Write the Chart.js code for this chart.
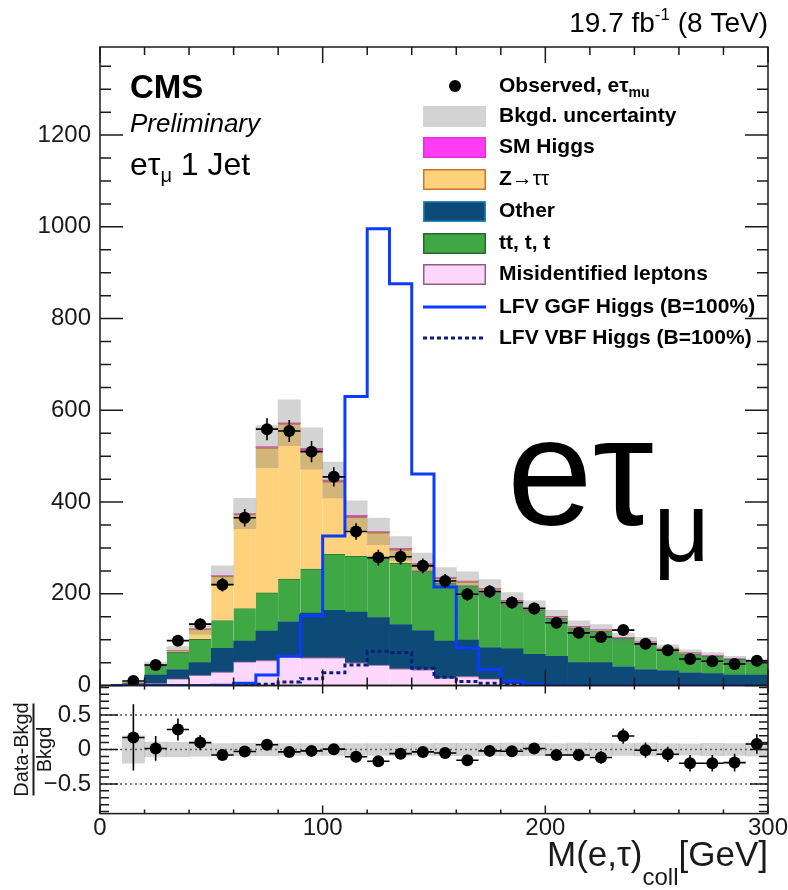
<!DOCTYPE html>
<html>
<head>
<meta charset="utf-8">
<title>LFV Higgs, e tau_mu 1 jet</title>
<script src="https://cdn.jsdelivr.net/npm/chart.js@4.4.1/dist/chart.umd.min.js"></script>
<style>
  html, body { margin: 0; padding: 0; background: #fff; }
  #wrap { position: relative; width: 788px; height: 890px; overflow: hidden; }
  canvas { position: absolute; left: 0; }
  #main { top: 0; }
  #ratio { top: 671px; }
</style>
</head>
<body>
<div id="wrap">
  <canvas id="main" width="788" height="709"></canvas>
  <canvas id="ratio" width="788" height="225"></canvas>
</div>
<script>
// M(e,tau)_coll in 10 GeV bins, 0 - 300 GeV
const binCenters = [5, 15, 25, 35, 45, 55, 65, 75, 85, 95, 105, 115, 125, 135, 145,
                    155, 165, 175, 185, 195, 205, 215, 225, 235, 245, 255, 265, 275, 285, 295];
const binHalfWidth = 5;

// backgrounds (events / bin), stacked from the bottom up
const misidLeptons = [0, 1, 5, 15, 23, 30, 52, 55, 63, 61, 61, 50, 45, 37, 35, 17, 20, 15, 4, 3, 2, 2, 1, 1, 1, 1, 1, 1, 1, 1];
const otherBkg     = [0, 2, 18, 20, 27, 51, 45, 64, 76, 97, 103, 110, 103, 96, 85, 80, 80, 68, 76, 65, 62, 48, 49, 40, 34, 32, 27, 25, 22, 22];
const ttbarTop     = [0, 2, 21, 38, 51, 61, 71, 83, 93, 96, 122, 122, 130, 134, 130, 127, 118, 123, 102, 97, 83, 76, 69, 62, 58, 46, 41, 38, 34, 27];
const zTauTau      = [0, 1, 2, 4, 23, 97, 206, 317, 339, 260, 159, 86, 56, 30, 15, 11, 9, 5, 3, 4, 3, 2, 2, 1, 2, 2, 2, 1, 1, 1];
const smHiggs      = [0, 0, 0, 0, 0, 1, 1, 2, 2, 3, 3, 3, 2, 2, 1, 1, 1, 1, 1, 1, 1, 1, 1, 1, 1, 1, 1, 1, 1, 1];
const bkgUncert    = [0, 1.2, 5, 8, 12, 21, 33, 46, 50, 45, 39, 32, 29, 26, 23, 21, 20, 19, 17, 15, 13, 12, 11, 9, 9, 7, 6, 6, 5, 5];

// LFV signals, B=100% (not stacked)
const ggfSignal = [0, 0, 0, 0, 0, 1, 5, 23, 64, 152, 326, 630, 996, 876, 461, 215, 82, 35, 10, 3, 1, 0, 0, 0, 0, 0, 0, 0, 0, 0];
const vbfSignal = [0, 0, 0, 0, 0, 0, 1, 3, 8, 15, 28, 45, 75, 72, 38, 18, 9, 5, 2, 1, 0, 0, 0, 0, 0, 0, 0, 0, 0, 0];

// observed data
const observed    = [null, 10, 45, 98, 134, 220, 366, 559, 555, 510, 455, 336, 279, 281, 261, 228, 199, 205, 181, 168, 137, 115, 106, 121, 91, 77, 58, 53, 47, 54];
const observedErr = [0, 3, 7, 10, 12, 15, 19, 24, 24, 23, 21, 18, 17, 17, 16, 15, 14, 14, 13, 13, 12, 11, 10, 11, 10, 9, 8, 7, 7, 7];

// lower pad: (Data-Bkgd)/Bkgd
const ratioVals = [null, 0.175, 0.015, 0.29, 0.10, -0.08, -0.03, 0.07, -0.035, -0.02, 0.005, -0.105, -0.17, -0.06, -0.035,
                   -0.05, -0.155, -0.02, -0.025, 0.015, -0.08, -0.08, -0.115, 0.195, -0.01, -0.07, -0.2, -0.2, -0.19, 0.08];
const ratioErr  = [0, 0.48, 0.18, 0.16, 0.11, 0.07, 0.06, 0.05, 0.05, 0.05, 0.05, 0.05, 0.05, 0.06, 0.06,
                   0.07, 0.07, 0.07, 0.07, 0.08, 0.08, 0.09, 0.09, 0.11, 0.11, 0.11, 0.12, 0.12, 0.13, 0.14];

// tick labels
const yTicksMain = [0, 200, 400, 600, 800, 1000, 1200];
const yTicksRatio = [-0.5, 0, 0.5];
const xTicks = [0, 100, 200, 300];

const FONT = "'Liberation Sans', Arial, Helvetica, sans-serif";
Chart.defaults.font.family = FONT;
Chart.defaults.color = '#1a1a1a';

const totals = binCenters.map((c, i) => misidLeptons[i] + otherBkg[i] + ttbarTop[i] + zTauTau[i] + smHiggs[i]);
const pts = arr => binCenters.map((c, i) => ({x: c, y: arr[i]}));
const filled = binCenters.map((c, i) => i).filter(i => totals[i] > 0);

function stackSet(label, arr, fill, edge, edgeW) {
    return {
        type: 'bar', label: label, data: pts(arr), stack: 'bkg', order: 4,
        backgroundColor: fill, borderColor: edge,
        borderWidth: {top: edgeW, right: 0, bottom: 0, left: 0}, borderSkipped: false,
        barPercentage: 1, categoryPercentage: 1
    };
}

// text made of pieces: [text, font, dy]
function runWidth(ctx, parts) {
    let w = 0;
    parts.forEach(p => { ctx.font = p[1]; w += ctx.measureText(p[0]).width; });
    return w;
}
function drawRun(ctx, x, y, parts) {
    let cx = x;
    parts.forEach(p => {
        ctx.font = p[1];
        ctx.fillText(p[0], cx, y + (p[2] || 0));
        cx += ctx.measureText(p[0]).width;
    });
    return cx;
}

// ROOT style frame with inward ticks on all four sides
function drawFrame(chart, t) {
    const {ctx, chartArea: a} = chart;
    const xs = chart.scales.x, ys = chart.scales.y;
    ctx.save();
    ctx.strokeStyle = '#1a1a1a';
    ctx.lineWidth = 1.5;
    ctx.beginPath();
    const nx = Math.round((xs.max - xs.min) / t.xMinor);
    for (let k = 0; k <= nx; k++) {
        const len = k % t.xEvery === 0 ? t.xMajLen : t.xMinLen;
        const px = xs.getPixelForValue(xs.min + k * t.xMinor);
        ctx.moveTo(px, a.bottom); ctx.lineTo(px, a.bottom - len);
        ctx.moveTo(px, a.top); ctx.lineTo(px, a.top + len);
    }
    const k0 = Math.ceil(ys.min / t.yMinor - 1e-6), k1 = Math.floor(ys.max / t.yMinor + 1e-6);
    for (let k = k0; k <= k1; k++) {
        const len = k % t.yEvery === 0 ? t.yMajLen : t.yMinLen;
        const py = ys.getPixelForValue(k * t.yMinor);
        ctx.moveTo(a.left, py); ctx.lineTo(a.left + len, py);
        ctx.moveTo(a.right, py); ctx.lineTo(a.right - len, py);
    }
    ctx.stroke();
    ctx.strokeRect(a.left, a.top, a.right - a.left, a.bottom - a.top);
    ctx.restore();
}

function drawErrors(chart, vals, errs) {
    const {ctx, chartArea: a} = chart;
    const xs = chart.scales.x, ys = chart.scales.y;
    ctx.save();
    ctx.beginPath();
    ctx.rect(a.left, a.top, a.right - a.left, a.bottom - a.top);
    ctx.clip();
    ctx.strokeStyle = '#000';
    ctx.lineWidth = 1.6;
    ctx.beginPath();
    binCenters.forEach((c, i) => {
        if (vals[i] === null) return;
        const y = ys.getPixelForValue(vals[i]);
        const x = xs.getPixelForValue(c);
        ctx.moveTo(xs.getPixelForValue(c - binHalfWidth), y);
        ctx.lineTo(xs.getPixelForValue(c + binHalfWidth), y);
        ctx.moveTo(x, ys.getPixelForValue(vals[i] - errs[i]));
        ctx.lineTo(x, ys.getPixelForValue(vals[i] + errs[i]));
    });
    ctx.stroke();
    ctx.restore();
}

const mainDecor = {
    id: 'mainDecor',
    afterDatasetsDraw(chart) {
        drawErrors(chart, observed, observedErr);
    },
    afterDraw(chart) {
        const ctx = chart.ctx;
        drawFrame(chart, {xMinor: 20, xEvery: 5, xMajLen: 16, xMinLen: 8,
                          yMinor: 50, yEvery: 4, yMajLen: 23, yMinLen: 11});
        ctx.save();
        ctx.fillStyle = '#000';
        ctx.textAlign = 'left';
        ctx.textBaseline = 'alphabetic';

        // luminosity
        const lumi = [['19.7 fb', `28px ${FONT}`], ['-1', `17px ${FONT}`, -12], [' (8 TeV)', `28px ${FONT}`]];
        drawRun(ctx, 768 - runWidth(ctx, lumi), 32, lumi);

        // CMS labels
        ctx.font = `bold 33px ${FONT}`;
        ctx.fillText('CMS', 130, 98);
        ctx.font = `italic 26px ${FONT}`;
        ctx.fillText('Preliminary', 130, 132);
        drawRun(ctx, 130, 175, [['eτ', `32px ${FONT}`], ['μ', `20px ${FONT}`, 7], [' 1 Jet', `32px ${FONT}`]]);

        // big channel label
        drawRun(ctx, 507, 525, [['eτ', `154px ${FONT}`], ['μ', `98px ${FONT}`, 36]]);

        // legend
        const B = `bold 21px ${FONT}`;
        const tx = 499, bx = 423, bw = 63, bh = 21;
        const box = (base, fill, edge) => {
            ctx.fillStyle = fill;
            ctx.fillRect(bx, base - 16, bw, bh);
            if (edge) {
                ctx.strokeStyle = edge;
                ctx.lineWidth = 1.5;
                ctx.strokeRect(bx + 0.75, base - 16 + 0.75, bw - 1.5, bh - 1.5);
            }
            ctx.fillStyle = '#000';
        };
        ctx.beginPath();
        ctx.arc(455, 86, 6, 0, Math.PI * 2);
        ctx.fill();
        drawRun(ctx, tx, 92, [['Observed, eτ', B], ['mu', `bold 14px ${FONT}`, 5]]);
        box(122, '#d3d3d3', null);
        drawRun(ctx, tx, 122, [['Bkgd. uncertainty', B]]);
        box(153, '#ff3cf3', '#e62ee0');
        drawRun(ctx, tx, 153, [['SM Higgs', B]]);
        box(185, '#fed27c', '#c9752e');
        drawRun(ctx, tx, 185, [['Z', B], ['→ττ', `21px ${FONT}`]]);
        box(217, '#0d4a78', '#2a86c0');
        drawRun(ctx, tx, 217, [['Other', B]]);
        box(249, '#3fa845', '#236b2b');
        drawRun(ctx, tx, 249, [['tt, t, t', B]]);
        box(280, '#fdd8fb', '#8e5b8e');
        drawRun(ctx, tx, 280, [['Misidentified leptons', B]]);
        ctx.strokeStyle = '#0b3bff';
        ctx.lineWidth = 3;
        ctx.beginPath(); ctx.moveTo(bx, 307); ctx.lineTo(bx + bw, 307); ctx.stroke();
        drawRun(ctx, tx, 313, [['LFV GGF Higgs (B=100%)', B]]);
        ctx.strokeStyle = '#0c1d7d';
        ctx.setLineDash([4, 3]);
        ctx.beginPath(); ctx.moveTo(bx, 338); ctx.lineTo(bx + bw, 338); ctx.stroke();
        ctx.setLineDash([]);
        drawRun(ctx, tx, 344, [['LFV VBF Higgs (B=100%)', B]]);
        ctx.restore();
    }
};

const ratioDecor = {
    id: 'ratioDecor',
    beforeDatasetsDraw(chart) {
        const {ctx, chartArea: a} = chart;
        ctx.save();
        ctx.strokeStyle = '#555';
        ctx.lineWidth = 1.5;
        ctx.setLineDash([2, 3]);
        ctx.beginPath();
        yTicksRatio.forEach(v => {
            const py = chart.scales.y.getPixelForValue(v);
            ctx.moveTo(a.left, py); ctx.lineTo(a.right, py);
        });
        ctx.stroke();
        ctx.restore();
    },
    afterDatasetsDraw(chart) {
        drawErrors(chart, ratioVals, ratioErr);
    },
    afterDraw(chart) {
        const {ctx, chartArea: a} = chart;
        drawFrame(chart, {xMinor: 20, xEvery: 5, xMajLen: 8, xMinLen: 4,
                          yMinor: 0.1, yEvery: 5, yMajLen: 18, yMinLen: 9});
        ctx.save();
        ctx.fillStyle = '#1a1a1a';
        // y title as a fraction
        const mid = (a.top + a.bottom) / 2;
        ctx.font = `20px ${FONT}`;
        ctx.textAlign = 'center';
        ctx.textBaseline = 'alphabetic';
        ctx.save(); ctx.translate(28, mid); ctx.rotate(-Math.PI / 2); ctx.fillText('Data-Bkgd', 0, 0); ctx.restore();
        ctx.save(); ctx.translate(51, mid); ctx.rotate(-Math.PI / 2); ctx.fillText('Bkgd', 0, 0); ctx.restore();
        ctx.strokeStyle = '#1a1a1a';
        ctx.lineWidth = 2;
        ctx.beginPath(); ctx.moveTo(33.5, mid - 46); ctx.lineTo(33.5, mid + 46); ctx.stroke();
        // x title
        ctx.textAlign = 'left';
        const xt = [['M(e,τ)', `35px ${FONT}`], ['coll', `24px ${FONT}`, 19], ['[GeV]', `35px ${FONT}`]];
        drawRun(ctx, 768 - runWidth(ctx, xt), a.bottom + 52, xt);
        ctx.restore();
    }
};

const mainChart = new Chart(document.getElementById('main'), {
    type: 'bar',
    data: {
        datasets: [
            {
                type: 'scatter', label: 'Observed',
                data: pts(observed).filter(p => p.y !== null),
                pointRadius: 6, pointBackgroundColor: '#000', pointBorderWidth: 0,
                stack: 'obs', order: 0
            },
            {
                type: 'line', label: 'LFV GGF Higgs (B=100%)', data: pts(ggfSignal),
                borderColor: '#0b3bff', borderWidth: 3, stepped: 'middle', pointRadius: 0, fill: false,
                stack: 'ggf', order: 1
            },
            {
                type: 'line', label: 'LFV VBF Higgs (B=100%)', data: pts(vbfSignal),
                borderColor: '#0c1d7d', borderWidth: 3, borderDash: [4, 3], stepped: 'middle', pointRadius: 0, fill: false,
                stack: 'vbf', order: 2
            },
            {
                type: 'bar', label: 'Bkgd. uncertainty',
                data: filled.map(i => ({x: binCenters[i], y: [totals[i] - bkgUncert[i], totals[i] + bkgUncert[i]]})),
                backgroundColor: 'rgba(120,120,120,0.33)', borderWidth: 0,
                stack: 'band', grouped: false, barPercentage: 1, categoryPercentage: 1, order: 3
            },
            stackSet('Misidentified leptons', misidLeptons, '#fdd8fb', '#9a6a9a', 1.2),
            stackSet('Other', otherBkg, '#0d4a78', '#0d4a78', 0),
            stackSet('tt, t, t', ttbarTop, '#3fa845', '#2b7d33', 1),
            stackSet('Z→ττ', zTauTau, '#fed27c', '#c9752e', 1.5),
            stackSet('SM Higgs', smHiggs, '#ff3cf3', '#ff3cf3', 0)
        ]
    },
    options: {
        responsive: false,
        animation: false,
        devicePixelRatio: 1,
        events: [],
        layout: {padding: {left: 0, right: 20, top: 47, bottom: 15}, autoPadding: false},
        plugins: {legend: {display: false}, tooltip: {enabled: false}},
        scales: {
            x: {type: 'linear', min: 0, max: 300, offset: false, display: false},
            y: {
                type: 'linear', min: 0, max: 1392, stacked: true,
                afterFit: s => { s.width = 100; },
                afterBuildTicks: s => { s.ticks = yTicksMain.map(v => ({value: v})); },
                grid: {display: false, drawTicks: false},
                border: {display: false},
                ticks: {padding: 9, font: {size: 24}, color: '#1a1a1a', callback: v => String(v)}
            }
        }
    },
    plugins: [mainDecor]
});

const ratioCanvas = document.getElementById('ratio');
const ratioChart = new Chart(ratioCanvas, {
    type: 'bar',
    data: {
        datasets: [
            {
                type: 'scatter', label: 'Data-Bkgd / Bkgd',
                data: pts(ratioVals).filter(p => p.y !== null),
                pointRadius: 6, pointBackgroundColor: '#000', pointBorderWidth: 0, order: 0
            },
            {
                type: 'bar', label: 'Bkgd. uncertainty',
                data: filled.map(i => ({x: binCenters[i], y: [-bkgUncert[i] / totals[i], bkgUncert[i] / totals[i]]})),
                backgroundColor: 'rgba(120,120,120,0.33)', borderWidth: 0,
                grouped: false, barPercentage: 1, categoryPercentage: 1, order: 1
            }
        ]
    },
    options: {
        responsive: false,
        animation: false,
        devicePixelRatio: 1,
        events: [],
        layout: {padding: {left: 0, right: 20, top: 9, bottom: 47}, autoPadding: false},
        plugins: {legend: {display: false}, tooltip: {enabled: false}},
        scales: {
            x: {
                type: 'linear', min: 0, max: 300, offset: false,
                afterFit: s => { s.height = 30; },
                afterBuildTicks: s => { s.ticks = xTicks.map(v => ({value: v})); },
                grid: {display: false, drawTicks: false},
                border: {display: false},
                ticks: {padding: 0, font: {size: 24}, color: '#1a1a1a', maxRotation: 0, autoSkip: false, callback: v => String(v)}
            },
            y: {
                type: 'linear', min: -0.93, max: 0.93,
                afterFit: s => { s.width = 100; },
                afterBuildTicks: s => { s.ticks = yTicksRatio.map(v => ({value: v})); },
                grid: {display: false, drawTicks: false},
                border: {display: false},
                ticks: {padding: 9, font: {size: 24}, color: '#1a1a1a',
                        callback: v => v < 0 ? '\u2212' + String(-v) : String(v)}
            }
        }
    },
    plugins: [ratioDecor]
});

// line the lower pad up right under the main frame, 128 px tall
const padTop = Math.round(mainChart.chartArea.bottom - ratioChart.chartArea.top);
ratioCanvas.style.top = padTop + 'px';
ratioChart.options.layout.padding.bottom += (padTop + ratioChart.chartArea.bottom) - (mainChart.chartArea.bottom + 128);
ratioChart.update();
</script>
</body>
</html>
